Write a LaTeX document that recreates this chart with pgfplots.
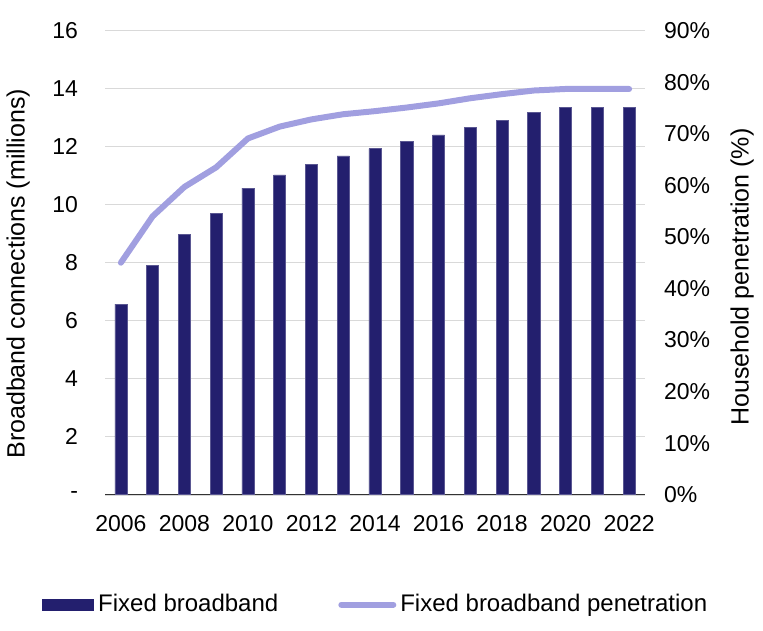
\documentclass[border=0pt]{standalone}
\usepackage{pgfplots}
\pgfplotsset{compat=1.18}
\usepackage{fontspec}
\setmainfont{Liberation Sans}
\definecolor{navy}{HTML}{231F6E}
\definecolor{lav}{HTML}{A19FE0}
\definecolor{gridc}{HTML}{D9D9D9}
\begin{document}
\begin{tikzpicture}
\pgfplotsset{every axis/.append style={font=\fontsize{11.5}{13.5}\selectfont,
  /pgf/number format/assume math mode=true,
  width=270pt, height=232pt, scale only axis,
  xmin=2005.5, xmax=2022.5, major tick length=0pt},
  every axis label/.append style={font=\fontsize{12.5}{14}\selectfont}}
\begin{axis}[name=ax,
  ymin=0, ymax=16,
  ytick={0,2,...,16}, yticklabels={-,2,4,6,8,10,12,14,16},
  xtick={2006,2008,...,2022},
  xticklabel style={/pgf/number format/1000 sep={}, yshift=-7pt},
  yticklabel style={xshift=-10pt},
  ymajorgrids, major grid style={gridc, line width=0.8pt},
  separate axis lines,
  axis x line*=bottom, axis y line*=left,
  y axis line style={draw=none},
  x axis line style={black!80, line width=0.6pt, -},
  ylabel={Broadband connections (millions)},
  ylabel style={at={(axis description cs:-0.161,0.476)}, anchor=center, font=\fontsize{12.5}{14}\selectfont},
]
\addplot[ybar, bar width=0.38, fill=navy, draw=navy!75!white, line width=0.3pt] coordinates {
(2006,6.57) (2007,7.92) (2008,8.98) (2009,9.70) (2010,10.57) (2011,11.03)
(2012,11.39) (2013,11.68) (2014,11.93) (2015,12.17) (2016,12.41) (2017,12.67)
(2018,12.92) (2019,13.17) (2020,13.36) (2021,13.36) (2022,13.36)};
\end{axis}
\begin{axis}[
  ymin=0, ymax=90,
  axis x line=none, axis y line*=right,
  y axis line style={draw=none},
  ytick={0,10,...,90},
  yticklabel={\pgfmathprintnumber{\tick}\%},
  yticklabel style={xshift=6pt},
  ylabel={Household penetration (\%)},
  ylabel style={at={(axis description cs:1.18,0.469)}, anchor=center, font=\fontsize{12.5}{14}\selectfont},
  legend columns=2,
  legend cell align=left,
  legend style={at={(axis description cs:0,0)}, anchor=west, xshift=-31.5pt, yshift=-55pt,
    draw=none, inner sep=0pt, fill=none,
    /tikz/every even column/.append style={column sep=28pt},
    font=\fontsize{12}{14}\selectfont},
]
\addlegendimage{legend image code/.code={\fill[navy] (0pt,-2.6pt) rectangle (25.5pt,2.6pt);}}
\addlegendentry{Fixed broadband}
\addplot[lav, line width=3pt, line cap=round, line join=round,
  legend image code/.code={\draw[lav, line width=3pt, line cap=round] (0pt,0pt) -- (26pt,0pt);}] coordinates {
(2006,45.0) (2007,54.0) (2008,59.7) (2009,63.5) (2010,69.1) (2011,71.4)
(2012,72.8) (2013,73.8) (2014,74.4) (2015,75.1) (2016,75.9) (2017,76.9)
(2018,77.7) (2019,78.4) (2020,78.7) (2021,78.7) (2022,78.7)};
\addlegendentry{Fixed broadband penetration}
\end{axis}
\pgfresetboundingbox
\path ([xshift=-52.5pt,yshift=-67.65pt]ax.south west) rectangle ([xshift=59pt,yshift=15.35pt]ax.north east);
\end{tikzpicture}
\end{document}
